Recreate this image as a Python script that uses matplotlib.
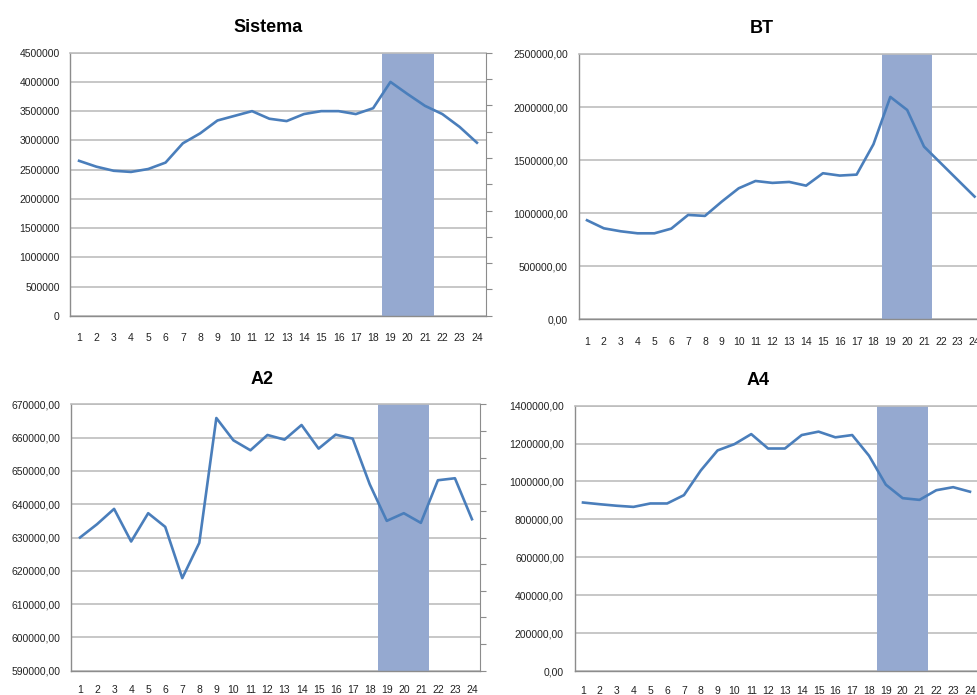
import numpy as np
import matplotlib
matplotlib.use("Agg")
from matplotlib import pyplot as plt
from matplotlib.ticker import FuncFormatter

plt.rcParams['font.family'] = ['Liberation Sans', 'DejaVu Sans']

# hours of the day
hours = list(range(1, 25))
# peak period marker (bar on secondary axis, hours 19-21)
peak = [0] * 18 + [1, 1, 1] + [0, 0, 0]

sistema = [2650000, 2550000, 2480000, 2460000, 2510000, 2620000, 2950000, 3120000,
           3340000, 3420000, 3500000, 3370000, 3330000, 3450000, 3500000, 3500000,
           3450000, 3550000, 4000000, 3790000, 3590000, 3450000, 3230000, 2960000]
bt = [933000, 857000, 829000, 810000, 810000, 854000, 983000, 974000,
      1109000, 1234000, 1303000, 1285000, 1294000, 1259000, 1376000, 1354000,
      1363000, 1649000, 2095000, 1972000, 1627000, 1470000, 1313000, 1156000]
a2 = [630000, 634000, 638600, 628800, 637300, 633200, 617800, 628400,
      665900, 659200, 656200, 660800, 659400, 663800, 656700, 660900,
      659700, 646000, 635000, 637300, 634400, 647200, 647800, 635500]
a4 = [889000, 880000, 872000, 866000, 884000, 884000, 928000, 1058000,
      1164000, 1197000, 1250000, 1174000, 1174000, 1245000, 1263000, 1233000,
      1245000, 1136000, 983000, 912000, 903000, 954000, 970000, 946000]

titles = ['Sistema', 'BT', 'A2', 'A4']
series = [sistema, bt, a2, a4]
ylims = [(0, 4500000), (0, 2500000), (590000, 670000), (0, 1400000)]
ysteps = [500000, 500000, 10000, 200000]
decimals = [0, 2, 2, 2]

# axes rectangles in figure fraction [left, bottom, width, height]
rects = [[0.0720, 0.5457, 0.4245, 0.3785],
         [0.5916, 0.5406, 0.4135, 0.3818],
         [0.0731, 0.0350, 0.4182, 0.3832],
         [0.5875, 0.0345, 0.4129, 0.3818]]
title_x = [0.476, 0.4535, 0.466, 0.454]
xpads = [12.5, 12.5, 10.5, 10.5]

line_col = '#4A7EBB'
band_col = '#95A9D0'
grid_col = '#BDBDBD'
spine_col = '#8C8C8C'

fig = plt.figure(figsize=(9.78, 6.95), dpi=100)

for i in range(4):
    ax = fig.add_axes(rects[i])
    lo, hi = ylims[i]
    ax.set_xlim(0.5, 24.5)
    ax.set_ylim(lo, hi)
    ax.set_axisbelow(True)
    ax.bar(hours, np.array(peak) * (hi - lo), bottom=lo, width=1.0,
           color=band_col, zorder=1, linewidth=0)
    ax.plot(hours, series[i], color=line_col, lw=1.9, zorder=3)

    ax.set_yticks(np.arange(lo, hi + 1, ysteps[i]))
    d = decimals[i]
    ax.yaxis.set_major_formatter(
        FuncFormatter(lambda v, p, d=d: f"{v:.{d}f}".replace('.', ',')))
    ax.set_xticks(hours)
    ax.grid(axis='y', color=grid_col, lw=1.2)
    ax.tick_params(axis='y', length=0, pad=7.7, labelsize=7.5, colors='#222222')
    ax.tick_params(axis='x', length=0, pad=xpads[i], labelsize=7.5, colors='#222222')
    for s in ['left', 'bottom']:
        ax.spines[s].set_color(spine_col)
        ax.spines[s].set_linewidth(1.0)
    ax.spines['top'].set_color(grid_col)
    ax.spines['top'].set_linewidth(1.2)
    ax.spines['right'].set_visible(False)
    ax.set_title(titles[i], fontsize=13, fontweight='bold', pad=15, x=title_x[i])

    # secondary axis (unlabelled ticks on the right)
    ax2 = ax.twinx()
    ax2.set_ylim(0, 1)
    ax2.set_yticks(np.linspace(0, 1, 11))
    ax2.set_yticklabels([])
    ax2.tick_params(axis='y', length=4, color=spine_col, direction='out')
    for s in ['left', 'top', 'bottom']:
        ax2.spines[s].set_visible(False)
    ax2.spines['right'].set_color(spine_col)

fig.savefig('out.png', dpi=100, facecolor='white')
